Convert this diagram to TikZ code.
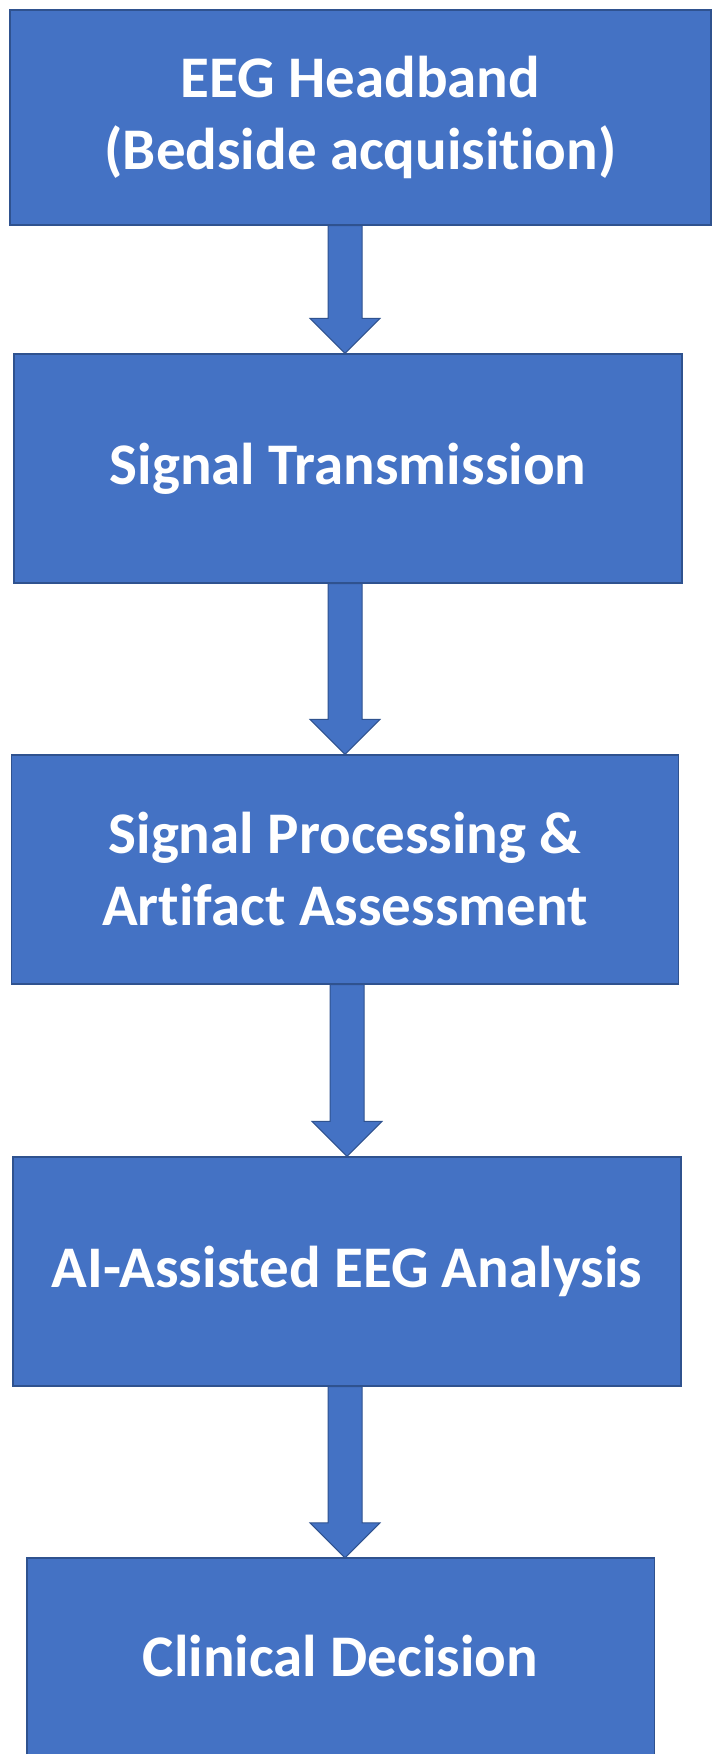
\documentclass[tikz,border=0pt]{standalone}
\usepackage{fontspec}
\setmainfont[Ligatures=NoCommon]{Carlito}
\usetikzlibrary{calc}
\definecolor{boxblue}{HTML}{4472C4}
\definecolor{boxedge}{HTML}{2F528F}
\tikzset{
  box/.style={rectangle, fill=boxblue, draw=boxedge, line width=1.4pt, text=white,
    align=center, inner sep=0pt, font=\fontsize{59}{72}\selectfont\bfseries},
  boxfill/.style={rectangle, fill=boxblue, text=white,
    align=center, inner sep=0pt, font=\fontsize{59}{72}\selectfont\bfseries},
  edgeline/.style={draw=boxedge, line width=1.4pt},
  bigarrow/.style={fill=boxblue, draw=boxedge, line width=1pt, line join=miter}
}
\newcommand{\flowarrow}[3]{%
  \draw[bigarrow]
    ($(#3 |- #1.south)+(-17,0)$) --
    ($(#3 |- #2.north)+(-17,-35)$) --
    ($(#3 |- #2.north)+(-35,-35)$) --
    (#3 |- #2.north) --
    ($(#3 |- #2.north)+(35,-35)$) --
    ($(#3 |- #2.north)+(17,-35)$) --
    ($(#3 |- #1.south)+(17,0)$) -- cycle;}
\begin{document}
\begin{tikzpicture}[x=1pt,y=-1pt]
\fill[white] (0,0) rectangle (720,1761);
\useasboundingbox (0,0) rectangle (720,1761);
\node[box, minimum width=701pt, minimum height=215pt] (n1) at (360.5,117.5) {EEG Headband\\(Bedside acquisition)};
\node[box, minimum width=668pt, minimum height=229pt] (n2) at (348,468.5) {Signal Transmission};
\node[box, minimum width=667pt, minimum height=229pt] (n3) at (345,869.5) {Signal Processing \&\\Artifact Assessment};
\node[box, minimum width=668pt, minimum height=229pt] (n4) at (347,1271.5) {AI-Assisted EEG Analysis};
\node[boxfill, minimum width=627pt, minimum height=196pt] (n5) at (340.5,1656) {Clinical Decision};
\draw[edgeline] (n5.south west) -- (n5.north west) -- (n5.north east) -- (n5.south east);
\coordinate (c1) at (345,0);
\coordinate (c2) at (345,0);
\coordinate (c3) at (347,0);
\coordinate (c4) at (345,0);
\flowarrow{n1}{n2}{c1}
\flowarrow{n2}{n3}{c2}
\flowarrow{n3}{n4}{c3}
\flowarrow{n4}{n5}{c4}
\end{tikzpicture}
\end{document}
